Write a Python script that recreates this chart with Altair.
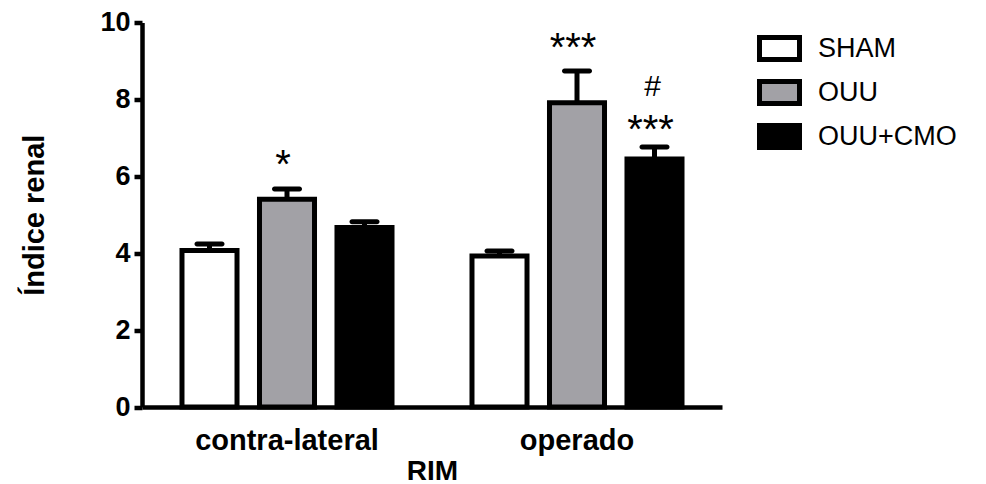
import altair as alt
import pandas as pd

FONT = "Liberation Sans"

kidneys = ["contra-lateral", "operado"]
groups = ["SHAM", "OUU", "OUU+CMO"]
colors = ["#ffffff", "#a2a1a6", "#000000"]

means_contra = [4.07, 5.40, 4.67]
means_oper = [3.93, 7.91, 6.45]
errors_contra = [0.17, 0.27, 0.15]
errors_oper = [0.13, 0.83, 0.31]

star_kidney = ["contra-lateral", "operado", "operado"]
star_group = ["OUU", "OUU", "OUU+CMO"]
star_text = ["*", "***", "***"]
star_level = [5.96, 9.0, 6.87]

hash_kidney = ["operado"]
hash_group = ["OUU+CMO"]
hash_text = ["#"]
hash_level = [8.09]

rows = []
for k, means, errs in [(kidneys[0], means_contra, errors_contra), (kidneys[1], means_oper, errors_oper)]:
    for g, m, e in zip(groups, means, errs):
        rows.append({"rim": k, "grupo": g, "valor": m, "cap": m + e})
df = pd.DataFrame(rows)

stars = pd.DataFrame({"rim": star_kidney, "grupo": star_group, "txt": star_text, "level": star_level})
hashes = pd.DataFrame({"rim": hash_kidney, "grupo": hash_group, "txt": hash_text, "level": hash_level})

W, H = 580, 384.5

x_axis = alt.Axis(
    title="RIM", labelAngle=0, ticks=False, tickSize=0, grid=False,
    domainWidth=4.5, domainColor="black",
    labelFont=FONT, labelFontSize=29, labelFontWeight="bold", labelColor="black",
    labelBaseline="alphabetic", labelPadding=42, labelLimit=400,
    titleFont=FONT, titleFontSize=28, titleFontWeight="bold", titleColor="black",
    titleX=W / 2, titleY=72, titleBaseline="alphabetic", titleAlign="center",
)
y_axis = alt.Axis(
    title="Índice renal", values=[0, 2, 4, 6, 8, 10], format="d", grid=False,
    tickSize=8, tickWidth=4.5, tickColor="black",
    domainWidth=4.5, domainColor="black",
    labelFont=FONT, labelFontSize=27, labelFontWeight="bold", labelColor="black",
    labelPadding=4,
    titleFont=FONT, titleFontSize=29, titleFontWeight="bold", titleColor="black",
    titleX=-99, titleY=H / 2, titleAngle=-90, titleBaseline="alphabetic", titleAlign="center",
)

x_enc = alt.X("rim:N", sort=kidneys, scale=alt.Scale(paddingInner=0, paddingOuter=0), axis=x_axis)
xo_enc = alt.XOffset("grupo:N", sort=groups, scale=alt.Scale(paddingInner=0.29, paddingOuter=0.516))
y_scale = alt.Scale(domain=[0, 10], nice=False, zero=True)

bars = alt.Chart(df).mark_bar(stroke="black", strokeWidth=5).encode(
    x=x_enc,
    xOffset=xo_enc,
    y=alt.Y("valor:Q", scale=y_scale, axis=y_axis),
    fill=alt.Fill(
        "grupo:N", sort=groups,
        scale=alt.Scale(domain=groups, range=colors),
        legend=alt.Legend(
            title=None, orient="none", legendX=615, legendY=3.5, padding=0,
            symbolType="M-1,-0.55H1V0.55H-1Z", symbolSize=1600,
            symbolStrokeWidth=5, symbolStrokeColor="black", symbolOpacity=1,
            labelFont=FONT, labelFontSize=27, labelColor="black",
            labelOffset=16, rowPadding=0,
        ),
    ),
)

err = alt.Chart(df).mark_rule(color="black", strokeWidth=5).encode(
    x=x_enc, xOffset=xo_enc,
    y=alt.Y("valor:Q", scale=y_scale, axis=y_axis),
    y2="cap:Q",
)

caps = alt.Chart(df).mark_tick(color="black", size=30, thickness=5, cornerRadius=2.5, opacity=1).encode(
    x=x_enc, xOffset=xo_enc,
    y=alt.Y("cap:Q", scale=y_scale, axis=y_axis),
)

star_marks = alt.Chart(stars).mark_text(
    font=FONT, fontSize=40, color="black", baseline="alphabetic", align="center", dx=-4
).encode(
    x=x_enc, xOffset=xo_enc,
    y=alt.Y("level:Q", scale=y_scale, axis=y_axis),
    text="txt:N",
)

hash_marks = alt.Chart(hashes).mark_text(
    font=FONT, fontSize=30, color="black", baseline="alphabetic", align="center", dx=-2
).encode(
    x=x_enc, xOffset=xo_enc,
    y=alt.Y("level:Q", scale=y_scale, axis=y_axis),
    text="txt:N",
)

chart = alt.layer(bars, err, caps, star_marks, hash_marks).properties(
    width=W, height=H,
    autosize=alt.AutoSizeParams(type="none"),
    padding={"left": 134, "top": 14.5, "right": 256, "bottom": 77},
    background="white",
).configure_view(stroke=None)

chart.save("out.html", embed_options={"renderer": "svg", "actions": False})
